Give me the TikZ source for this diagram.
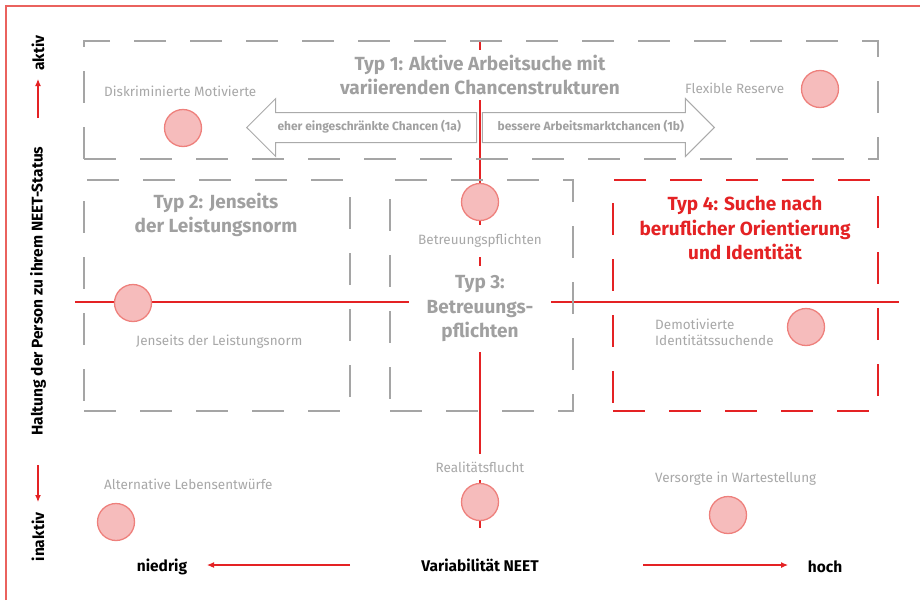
\documentclass[tikz,border=0pt]{standalone}
\usepackage{fontspec}
\setmainfont{Fira Sans}
\usetikzlibrary{arrows.meta,positioning,shapes.arrows}
\definecolor{neetred}{RGB}{228,34,36}
\definecolor{framered}{RGB}{234,98,94}
\definecolor{boxgray}{RGB}{165,165,165}
\definecolor{lblgray}{RGB}{168,168,168}
\definecolor{ttlgray}{RGB}{160,160,160}
\definecolor{arrgray}{RGB}{170,170,170}
\definecolor{chtext}{RGB}{160,160,160}
\definecolor{dotfill}{RGB}{246,188,188}
\definecolor{dotline}{RGB}{238,128,124}

\begin{document}
\begin{tikzpicture}[
  x=1pt, y=-1pt,
  tbox/.style={draw=boxgray, line width=2.4pt, dash pattern=on 32pt off 24pt, anchor=north west, inner sep=0pt},
  tboxred/.style={tbox, draw=neetred},
  axisline/.style={draw=neetred, line width=1.6pt},
  dot/.style={circle, draw=dotline, fill=dotfill, line width=1.3pt, minimum size=37pt, inner sep=0pt},
  lbl/.style={text=lblgray, font=\fontsize{13.5}{16}\selectfont, fill=white, inner sep=1pt},
  ttl/.style={text=ttlgray, font=\bfseries\fontsize{19}{24.5}\selectfont, align=center, fill=white, inner sep=5pt},
  chance/.style={single arrow, draw=arrgray, fill=white, line width=1pt, single arrow head extend=14pt,
    text=chtext, font=\bfseries\fontsize{12}{14}\selectfont, text height=9pt, text depth=3pt, inner ysep=8.5pt, inner xsep=2pt},
  axisarr/.style={-{Latex[length=7pt,width=6pt]}, draw=neetred, line width=1.1pt},
  axlbl/.style={font=\bfseries\fontsize{15.5}{18}\selectfont, inner sep=1pt}
]
\useasboundingbox (0,0) rectangle (920,600);
% frame
\draw[framered, line width=1.6pt] (6,600) -- (6,6) -- (920,6);
% axes of the map
\coordinate (hl) at (75,302);
\coordinate (hr) at (899,302);
\coordinate (vt) at (480,41);
\coordinate (vb) at (480,528);
\draw[axisline] (hl) -- (hr);
\draw[axisline] (vt) -- (vb);
% type boxes
\node[tbox, minimum width=794pt, minimum height=118pt] (typ1) at (83,40) {};
\node[tbox, minimum width=266pt, minimum height=231pt] (typ2) at (83,179) {};
\node[tbox, minimum width=183pt, minimum height=231pt] (typ3) at (389,179) {};
\node[tboxred, minimum width=265pt, minimum height=231pt] (typ4) at (612,179) {};
% titles
\node[ttl] (t1) at (480,75) {Typ 1: Aktive Arbeitsuche mit\\variierenden Chancenstrukturen};
\node[ttl] (t2) at (216,215) {Typ 2: Jenseits\\der Leistungsnorm};
\node[ttl, inner xsep=18pt, inner ysep=10pt] (t3) at (480,309) {Typ 3:\\Betreuungs-\\pflichten};
\node[ttl, text=neetred] (t4) at (745,228) {Typ 4: Suche nach\\beruflicher Orientierung\\und Identität};
% chances
\node[chance, shape border rotate=180, minimum height=230pt, anchor=tip] (c1a) at (246,127.5) {eher eingeschränkte Chancen (1a)};
\node[chance, minimum height=232pt, anchor=tip] (c1b) at (715,127.5) {bessere Arbeitsmarktchancen (1b)};
% subtypes
\node[lbl, anchor=west] (lDisk) at (103,91) {Diskriminierte Motivierte};
\node[lbl, anchor=west] (lFlex) at (684,88) {Flexible Reserve};
\node[lbl, inner ysep=9pt] (lBetr) at (480,241) {Betreuungspflichten};
\node[lbl, anchor=west] (lJens) at (135,342) {Jenseits der Leistungsnorm};
\node[lbl, anchor=west, align=left, font=\fontsize{13.5}{16}\selectfont] (lDemo) at (654,332) {Demotivierte\\Identitätssuchende};
\node[lbl, anchor=west] (lAlt) at (103,484) {Alternative Lebensentwürfe};
\node[lbl, inner ysep=8pt] (lReal) at (480,467) {Realitätsflucht};
\node[lbl, anchor=west] (lVers) at (654,479) {Versorgte in Wartestellung};
\node[dot] (dDisk) at (183,128) {};
\node[dot] (dFlex) at (820,89) {};
\node[dot] (dBetr) at (480,202) {};
\node[dot] (dJens) at (133,303) {};
\node[dot] (dDemo) at (806,327) {};
\node[dot] (dAlt) at (116,522) {};
\node[dot] (dReal) at (480,502) {};
\node[dot] (dVers) at (728,515) {};
% axis labels
\node[axlbl, rotate=90] (yax) at (38,291) {Haltung der Person zu ihrem NEET-Status};
\node[axlbl, rotate=90] (yhi) at (38,53) {aktiv};
\node[axlbl, rotate=90] (ylo) at (38,537) {inaktiv};
\coordinate (yupS) at (38,118);
\coordinate (yupE) at (38,79);
\coordinate (ydnS) at (38,465);
\coordinate (ydnE) at (38,502);
\draw[axisarr] (yupS) -- (yupE);
\draw[axisarr] (ydnS) -- (ydnE);
\node[axlbl] (xax) at (480,565) {Variabilität NEET};
\node[axlbl] (xlo) at (162,567) {niedrig};
\node[axlbl] (xhi) at (825,567) {hoch};
\coordinate (xloS) at (350,565);
\coordinate (xloE) at (207,565);
\coordinate (xhiS) at (643,565);
\coordinate (xhiE) at (788,565);
\draw[axisarr] (xloS) -- (xloE);
\draw[axisarr] (xhiS) -- (xhiE);
\end{tikzpicture}
\end{document}
